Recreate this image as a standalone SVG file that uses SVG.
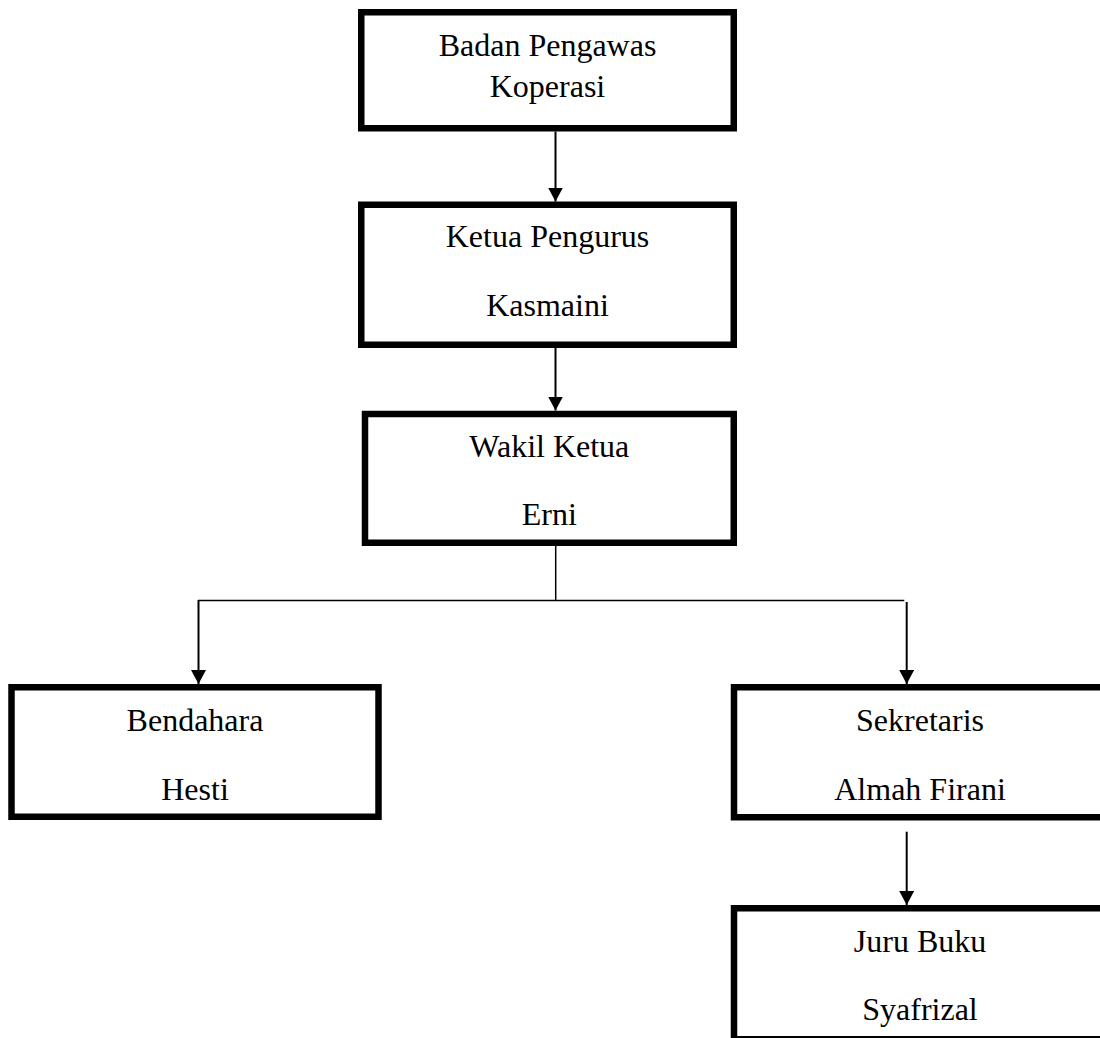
<svg xmlns="http://www.w3.org/2000/svg" width="1100" height="1038" viewBox="0 0 1100 1038">
<style>
.box{fill:#fff;stroke:#000;stroke-width:6.5}
.t{font-family:"Liberation Serif","Times New Roman",serif;font-size:32px;fill:#000;text-anchor:middle}
.arr{stroke:#000;stroke-width:2;fill:none;marker-end:url(#ah)}
.ln{stroke:#000;stroke-width:1.5;fill:none}
</style>
<defs>
<marker id="ah" markerUnits="userSpaceOnUse" markerWidth="15" markerHeight="15" refX="14" refY="7.5" orient="auto">
<path d="M0,0 L14,7.5 L0,15 z" fill="#000"/>
</marker>
</defs>
<rect width="1100" height="1038" fill="#fff"/>
<g id="connectors">
<line class="arr" x1="555.5" y1="131.5" x2="555.5" y2="201.5"/>
<line class="arr" x1="555.5" y1="348" x2="555.5" y2="410.5"/>
<line class="ln" x1="555.7" y1="546" x2="555.7" y2="600.5"/>
<line class="ln" x1="198" y1="600.5" x2="904.3" y2="600.5"/>
<line class="arr" x1="198.5" y1="600" x2="198.5" y2="684"/>
<line class="arr" x1="906.7" y1="602" x2="906.7" y2="684"/>
<line class="arr" x1="906.7" y1="831.7" x2="906.7" y2="905"/>
</g>
<g id="badan-pengawas">
<rect class="box" x="361.25" y="12.25" width="372.5" height="116"/>
<text class="t" x="547.5" y="56">Badan Pengawas</text>
<text class="t" x="547.5" y="97.3">Koperasi</text>
</g>
<g id="ketua-pengurus">
<rect class="box" x="361.25" y="204.75" width="372.5" height="140"/>
<text class="t" x="547.5" y="246.7">Ketua Pengurus</text>
<text class="t" x="547.5" y="316">Kasmaini</text>
</g>
<g id="wakil-ketua">
<rect class="box" x="365" y="414" width="368.75" height="128.75"/>
<text class="t" x="549.3" y="456.7">Wakil Ketua</text>
<text class="t" x="549.3" y="525">Erni</text>
</g>
<g id="bendahara">
<rect class="box" x="11.5" y="687.25" width="367" height="129.5"/>
<text class="t" x="195" y="730.7">Bendahara</text>
<text class="t" x="195" y="800">Hesti</text>
</g>
<g id="sekretaris">
<rect class="box" x="734" y="687.25" width="372" height="130"/>
<text class="t" x="920" y="730.7">Sekretaris</text>
<text class="t" x="920" y="800">Almah Firani</text>
</g>
<g id="juru-buku">
<rect class="box" x="734" y="908.25" width="372" height="131"/>
<text class="t" x="920" y="951.7">Juru Buku</text>
<text class="t" x="920" y="1020">Syafrizal</text>
</g>
</svg>
